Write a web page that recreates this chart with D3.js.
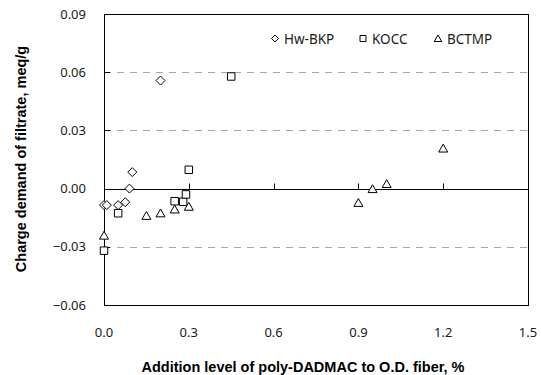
<!DOCTYPE html>
<html>
<head>
<meta charset="utf-8">
<script src="https://cdn.jsdelivr.net/npm/d3@7"></script>
<style>
  body { margin: 0; background: #fff; }
  svg { display: block; }
</style>
</head>
<body>
<div id="chart"></div>
<script>
// Données
const hwX = [0.0, 0.01, 0.05, 0.075, 0.09, 0.1, 0.2];
const hwY = [-0.0085, -0.0085, -0.0085, -0.007, 0.0, 0.0085, 0.0557];

const koccX = [0.0, 0.05, 0.25, 0.28, 0.29, 0.3, 0.45];
const koccY = [-0.032, -0.0127, -0.0065, -0.0068, -0.003, 0.0097, 0.0578];

const bctmpX = [0.0, 0.15, 0.2, 0.25, 0.3, 0.9, 0.95, 1.0, 1.2];
const bctmpY = [-0.0242, -0.014, -0.0127, -0.0107, -0.0093, -0.0073, -0.0002, 0.0024, 0.0207];

const xTicks = [0.0, 0.3, 0.6, 0.9, 1.2, 1.5];
const yTicks = [-0.06, -0.03, 0.0, 0.03, 0.06, 0.09];
const gridTicks = [-0.03, 0.03, 0.06];

const seriesNames = ["Hw-BKP", "KOCC", "BCTMP"];

// Canevas
const W = 541, H = 375;
const plotL = 104, plotR = 528, plotT = 14, plotB = 305;

const svg = d3.select("#chart").append("svg")
    .attr("width", W)
    .attr("height", H);

const x = d3.scaleLinear().domain([0, 1.5]).range([plotL, plotR]);
const y = d3.scaleLinear().domain([-0.06, 0.09]).range([plotB, plotT]);

// Formes des marqueurs (style Excel)
const diamond = {
    draw(ctx, size) {
        const r = Math.sqrt(size) / 2;
        ctx.moveTo(0, -r); ctx.lineTo(r, 0); ctx.lineTo(0, r); ctx.lineTo(-r, 0); ctx.closePath();
    }
};
const square = {
    draw(ctx, size) {
        const r = Math.sqrt(size) / 2;
        ctx.rect(-r, -r, 2 * r, 2 * r);
    }
};
const triangle = {
    draw(ctx, size) {
        const r = Math.sqrt(size) / 2;
        ctx.moveTo(0, -r * 0.95); ctx.lineTo(r, r * 0.8); ctx.lineTo(-r, r * 0.8); ctx.closePath();
    }
};

// Quadrillage
svg.append("g")
    .selectAll("line")
    .data(gridTicks)
    .join("line")
    .attr("x1", plotL)
    .attr("x2", plotR)
    .attr("y1", d => Math.round(y(d)) + 0.5)
    .attr("y2", d => Math.round(y(d)) + 0.5)
    .attr("stroke", "#a6a6a6")
    .attr("stroke-dasharray", "7,6");

// Cadre
svg.append("rect")
    .attr("x", plotL + 0.5)
    .attr("y", plotT + 0.5)
    .attr("width", plotR - plotL)
    .attr("height", plotB - plotT)
    .attr("fill", "none")
    .attr("stroke", "#000");

// Axe X sur la ligne zéro, étiquettes en bas
const y0 = Math.round(y(0)) + 0.5;
svg.append("line")
    .attr("x1", plotL).attr("x2", plotR)
    .attr("y1", y0).attr("y2", y0)
    .attr("stroke", "#000");

svg.append("g")
    .selectAll("line")
    .data(xTicks.slice(1, -1))
    .join("line")
    .attr("x1", d => Math.round(x(d)) + 0.5)
    .attr("x2", d => Math.round(x(d)) + 0.5)
    .attr("y1", y0)
    .attr("y2", y0 - 6)
    .attr("stroke", "#000");

svg.append("g")
    .selectAll("line")
    .data(yTicks.slice(1, -1))
    .join("line")
    .attr("x1", plotL)
    .attr("x2", plotL + 6)
    .attr("y1", d => Math.round(y(d)) + 0.5)
    .attr("y2", d => Math.round(y(d)) + 0.5)
    .attr("stroke", "#000");

svg.append("g")
    .selectAll("text")
    .data(xTicks)
    .join("text")
    .attr("x", d => x(d))
    .attr("y", 336.5)
    .attr("text-anchor", "middle")
    .attr("font-family", "'Noto Sans', sans-serif")
    .attr("font-size", "13px")
    .attr("fill", "#1a1a1a")
    .text(d3.format(".1f"));

svg.append("g")
    .selectAll("text")
    .data(yTicks)
    .join("text")
    .attr("x", 86)
    .attr("y", d => y(d) + 4.5)
    .attr("text-anchor", "end")
    .attr("font-family", "'Noto Sans', sans-serif")
    .attr("font-size", "13px")
    .attr("fill", "#1a1a1a")
    .text(d3.format(".2f"));

// Titres des axes
svg.append("text")
    .attr("x", 303)
    .attr("y", 371.5)
    .attr("text-anchor", "middle")
    .attr("font-family", "'Liberation Sans', Arial, sans-serif")
    .attr("font-weight", "bold")
    .attr("font-size", "14.5px")
    .text("Addition level of poly-DADMAC to O.D. fiber, %");

svg.append("text")
    .attr("transform", "translate(26, 159) rotate(-90)")
    .attr("text-anchor", "middle")
    .attr("font-family", "'Liberation Sans', Arial, sans-serif")
    .attr("font-weight", "bold")
    .attr("font-size", "14.5px")
    .text("Charge demand of filtrate, meq/g");

// Points
const series = [
    { xs: hwX, ys: hwY, type: diamond, size: 81 },
    { xs: koccX, ys: koccY, type: square, size: 56 },
    { xs: bctmpX, ys: bctmpY, type: triangle, size: 81 }
];

series.forEach(s => {
    svg.append("g")
        .selectAll("path")
        .data(s.xs.map((v, i) => [v, s.ys[i]]))
        .join("path")
        .attr("transform", d => `translate(${x(d[0])}, ${y(d[1])})`)
        .attr("d", d3.symbol().type(s.type).size(s.size))
        .attr("fill", "#fff")
        .attr("stroke", "#000")
        .attr("stroke-width", 1);
});

// Légende
const legendPos = [275, 363, 438];
const legendShapes = [
    { type: diamond, size: 49 },
    { type: square, size: 36 },
    { type: triangle, size: 56 }
];

const legend = svg.selectAll(".legend")
    .data(seriesNames)
    .join("g")
    .attr("class", "legend")
    .attr("transform", (d, i) => `translate(${legendPos[i]}, 38.5)`);

legend.append("path")
    .attr("d", (d, i) => d3.symbol().type(legendShapes[i].type).size(legendShapes[i].size)())
    .attr("fill", "#fff")
    .attr("stroke", "#000");

legend.append("text")
    .attr("x", 9)
    .attr("y", 5.5)
    .attr("font-family", "'Noto Sans', sans-serif")
    .attr("font-size", "13.5px")
    .attr("fill", "#1a1a1a")
    .text(d => d);
</script>
</body>
</html>
